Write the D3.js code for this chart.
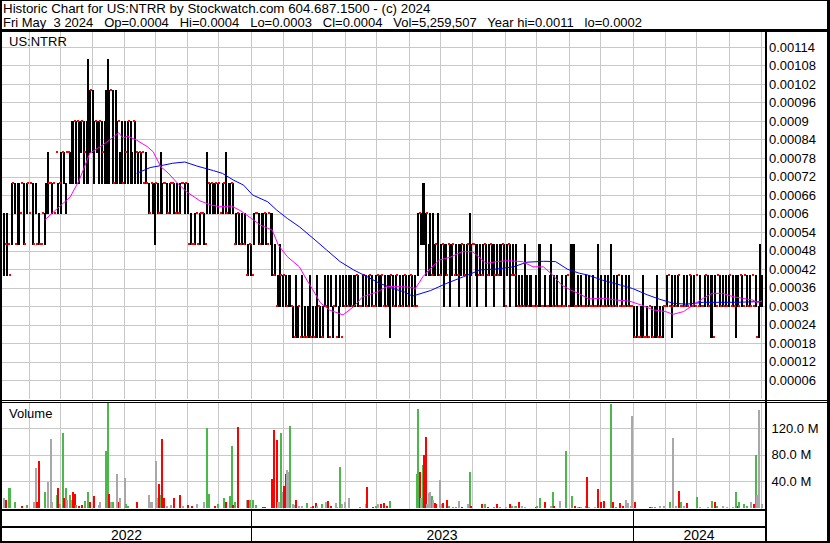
<!DOCTYPE html>
<html><head><meta charset="utf-8">
<script src="https://cdn.jsdelivr.net/npm/d3@7"></script>
<style>
html,body{margin:0;padding:0;background:#fff;}
svg{display:block;font-family:"Liberation Sans",Arial,sans-serif;}
text{white-space:pre;}
</style></head><body><svg id="c" width="830" height="543"></svg>
<script>
const title1 = "Historic Chart for US:NTRR by Stockwatch.com 604.687.1500 - (c) 2024";
const title2 = "Fri May  3 2024   Op=0.0004   Hi=0.0004   Lo=0.0003   Cl=0.0004   Vol=5,259,507   Year hi=0.0011   lo=0.0002";
const symbol = "US:NTRR";
const priceTicks = [0.00006,0.00012,0.00018,0.00024,0.0003,0.00036,0.00042,0.00048,0.00054,0.0006,0.00066,0.00072,0.00078,0.00084,0.0009,0.00096,0.00102,0.00108,0.00114];
const volTicks = [40,80,120];
const volTickLabels = ["40.0 M","80.0 M","120.0 M"];
const yearLabels = ["2022","2023","2024"];

// daily high / low in units of 0.0001 (one entry per trading day); high == low -> single-price day
const high = [
6,5,6,5,4,7,7,7,5,7, 7,6,7,7,5,7,7,6,7,7, 5,7,5,6,5,5,6,6,7,8, 7,7,7,7,6,8,7,7,8,8,
8,7,8,8,8,9,9,9,9,9, 9,9,9,9,8,9,11,10,10,10, 9,9,9,9,9,9,8,9,10,11, 10,10,10,7,10,9,9,8,9,7,
9,8,9,9,9,8,9,9,8,8, 8,8,8,7,8,7,7,6,7,7, 7,7,7,6,8,7,7,7,7,6, 7,7,7,7,6,7,6,7,7,7,
7,7,7,5,6,5,5,6,6,5, 6,6,6,6,5,8,7,7,7,7, 7,7,7,7,6,7,7,8,6,7, 7,7,7,5,6,6,6,5,6,5,
6,4,5,5,5,4,6,6,6,6, 5,6,6,6,6,5,6,6,6,4, 5,3,4,5,4,4,4,4,3,4, 4,3,3,2,4,3,3,2,4,2,
3,2,3,4,2,3,2,3,4,3, 3,2,3,4,3,4,2,4,3,3, 4,2,3,4,2,4,3,4,3,4, 4,3,4,4,4,4,3,3,4,4,
4,3,4,4,4,3,3,4,4,4, 4,4,3,4,3,4,4,4,4,3, 4,4,3,4,3,4,4,4,3,4, 4,4,3,4,3,6,6,6,7,7,
6,6,5,6,4,6,5,5,6,4, 5,5,5,5,4,5,5,5,5,4, 5,4,5,5,5,5,4,5,5,6, 5,5,5,5,5,4,5,4,5,5,
5,4,5,5,5,5,4,5,4,5, 5,5,5,3,5,5,5,4,5,4, 5,3,4,3,4,3,5,4,3,4, 4,3,3,4,3,5,5,3,3,4,
3,3,4,5,3,4,3,4,3,3, 4,3,3,4,4,3,5,5,5,3, 3,4,3,4,3,3,4,3,4,3, 3,4,3,3,5,3,4,3,3,4,
3,4,3,5,3,4,3,4,4,3, 4,3,3,4,3,4,3,3,3,2, 3,2,2,3,4,2,2,3,2,3, 3,2,3,4,2,3,2,3,3,3,
4,4,3,4,3,4,3,4,4,3, 3,4,3,4,3,4,4,3,4,3, 4,3,4,3,3,4,4,4,3,4, 4,2,4,3,4,4,3,4,3,4,
3,4,4,3,4,3,4,4,3,4, 4,3,4,4,3,4,3,4,3,4, 2,3,5,4];
const low = [
4,5,4,5,4,5,7,6,5,5, 5,6,7,5,5,6,7,6,7,5, 5,6,5,5,5,5,6,5,6,6, 7,7,6,7,6,8,6,7,6,8,
7,6,8,8,7,7,7,9,7,9, 7,8,9,7,8,7,7,8,10,8, 7,9,8,7,9,7,8,7,7,7, 7,10,7,7,7,7,9,7,7,7,
7,8,7,9,7,7,9,7,8,7, 8,7,8,7,7,7,6,6,7,6, 5,7,6,6,6,6,7,7,6,6, 6,7,7,6,6,6,6,6,7,7,
6,7,6,5,5,5,5,5,6,5, 5,6,6,5,5,6,7,6,7,6, 6,7,6,7,6,6,7,6,6,6, 6,7,6,5,5,6,5,5,5,5,
5,4,4,5,4,4,5,6,6,5, 5,5,5,6,5,5,6,5,4,4, 4,3,3,3,4,3,4,3,3,3, 3,3,2,2,2,2,3,2,2,2,
2,2,2,2,2,2,2,2,2,3, 2,2,2,3,3,2,2,3,2,3, 3,2,2,3,2,3,3,3,3,3, 3,3,3,3,4,3,3,3,3,4,
3,3,3,4,3,3,3,3,4,3, 3,4,3,3,3,3,2,4,3,3, 3,4,3,3,3,3,4,3,3,3, 4,3,3,3,3,4,6,5,5,5,
4,6,4,4,4,4,4,5,4,4, 4,5,3,4,4,5,3,4,5,4, 4,4,3,4,5,4,4,3,5,3, 4,5,5,4,3,4,4,4,4,5,
3,4,4,5,4,3,4,4,4,4, 4,5,3,3,4,5,3,4,4,4, 3,3,3,3,3,3,3,3,3,3, 3,3,3,3,3,3,3,3,3,3,
3,3,3,3,3,3,3,3,3,3, 3,3,3,3,4,3,3,3,3,3, 3,3,3,3,3,3,3,3,3,3, 3,3,3,3,3,3,3,3,3,3,
3,3,3,3,3,3,3,3,4,3, 3,3,3,3,3,3,3,3,2,2, 2,2,2,2,2,2,2,2,2,3, 2,2,2,2,2,2,2,2,3,3,
3,4,3,2,3,3,3,3,4,3, 3,3,3,3,3,4,3,3,3,3, 4,3,3,3,3,3,4,3,3,2, 2,2,3,3,4,3,3,3,3,3,
3,3,4,3,3,3,2,3,3,4, 3,3,4,3,3,3,3,4,3,3, 2,2,3,3];

// visible volume bars: trading-day index, millions of shares, colour code (g up, r down, n unchanged)
const volIdx = [0,1,3,4,7,12,15,20,21,22,23,27,29,31,32,35,36,37,39,40,41,42,44,45,46,47,48,50,52,54,56,57,60,63,64,68,69,70,71,72,75,76,77,80,81,82,88,96,97,98,101,102,103,104,105,106,108,111,113,117,119,122,125,128,133,135,136,140,142,146,147,150,151,152,153,155,161,162,163,165,167,172,173,178,179,181,182,183,184,185,186,187,188,189,190,192,193,194,196,198,201,204,205,207,208,211,214,215,217,220,221,223,224,226,229,236,240,241,245,247,248,250,252,254,256,274,275,276,277,278,279,280,281,282,283,284,285,286,287,289,290,291,294,295,298,300,302,304,308,309,310,317,319,321,325,327,329,333,336,337,339,340,342,344,346,353,354,356,359,363,364,365,369,373,377,379,381,382,383,386,387,388,392,394,396,398,403,404,406,409,411,413,414,416,417,419,429,430,432,435,438,442,444,446,448,449,451,453,460,462,467,470,472,473,477,480,484,486,487,488,491,493,496,498,499,500,501,503];
const volM = [14,11,29,29,8,2,4,8,59,8,70,23,38,104,9,19,29,6,113,14,30,12,19,12,24,20,4,2,4,10,23,8,17,4,8,85,160,20,8,8,51,8,14,44,6,3,8,19,8,9,70,15,35,19,103,14,2,4,15,19,2,4,2,5,8,120,20,2,6,15,8,17,93,4,8,121,11,11,11,11,4,1.5,1.5,43,117,102,8,8,112,24,32,51,57,54,123,5,4,11,2,2,7,1.5,2,7,2,5,8,10,2,7,1.5,61,5,8,15,1.5,5,31,1.5,2,5,5,7,2,10,51,149,53,15,64,80,107,6,22,24,17,11,7,6,41,6,7,11,2,1.5,1.5,10,1.5,6,53,2,6,6,1.5,1.5,6,1.5,1.5,6,2,2,2,8,2,1.5,1.5,2,14,8,2,23,2,10,85,17,2,1.5,1.5,1.5,2,46,1.5,1.5,28,8,10,156,8,1.5,7,2,11,7,2,138,8,1.5,1.5,1.5,2,2,8,105,2,25,8,2,7,16,1.5,1.5,10,8,2,2,1.5,1.5,24,2,8,5,2,8,5,79,19,147,5.3];
const volDir = ["n","r","g","g","g","r","g","n","n","r","r","g","n","n","n","g","r","n","g","r","g","n","g","n","r","r","g","r","r","g","g","r","r","n","n","g","g","r","n","g","n","r","n","n","g","g","r","n","n","n","n","n","r","g","r","r","n","n","r","r","n","r","r","n","n","g","g","r","g","g","r","g","g","r","g","r","n","r","g","g","g","r","r","r","r","r","n","n","g","n","r","r","n","n","g","n","n","r","n","n","g","g","r","r","n","g","n","r","r","n","n","g","n","n","n","g","n","r","r","g","n","r","r","r","g","g","g","r","n","g","r","r","n","n","n","g","n","r","r","n","n","r","r","g","g","g","n","r","n","g","r","r","g","r","g","r","g","n","r","g","n","g","r","n","n","r","g","g","r","n","g","r","n","g","g","r","n","r","n","g","r","n","n","r","r","r","g","r","g","r","r","n","n","n","n","r","r","g","g","n","n","g","n","n","r","g","n","r","g","n","n","g","r","g","n","n","n","g","r","g","g","g","n","r","g","n","n","n"];

// moving averages: trading-day index and value (0.0001 units)
const maShortIdx = [27,44,50,57,64,70,76,79,82,88,95,99,104,109,115,121,130,137,143,151,157,163,170,178,182,188,196,201,205,210,216,225,232,238,248,254,263,269,273,278,283,289,296,304,311,316,320,327,334,344,351,358,364,370,376,382,388,398,407,415,423,431,439,444,451,459,464,470,477,484,490,497,500,503];
const maShortVal = [5.79,6.54,7.09,7.96,8.17,8.38,8.62,8.45,8.51,8.38,8.17,8.0,7.52,7.31,6.99,6.71,6.41,6.28,6.22,6.24,6.09,5.88,5.63,5.46,4.98,4.6,4.27,3.84,3.52,3.1,2.87,2.71,2.98,3.3,3.46,3.63,3.63,3.61,3.57,3.95,4.22,4.49,4.58,4.76,4.76,4.55,4.38,4.44,4.47,4.44,4.27,4.27,4.01,3.68,3.52,3.39,3.23,3.25,3.19,3.16,3.03,2.87,2.82,2.73,2.82,3.09,3.25,3.41,3.41,3.3,3.25,3.19,3.11,3.17];
const maLongIdx = [88,97,106,112,120,128,139,145,152,159,165,175,181,188,196,205,214,223,232,241,249,258,266,271,283,294,305,316,327,338,347,358,366,374,382,387,397,409,417,427,435,444,453,464,475,486,500,503];
const maLongVal = [7.3,7.49,7.57,7.63,7.67,7.54,7.39,7.3,7.09,6.92,6.6,6.38,6.11,5.84,5.57,5.2,4.82,4.44,4.17,3.95,3.74,3.57,3.45,3.32,3.5,3.74,3.95,4.17,4.2,4.27,4.42,4.45,4.44,4.19,4.06,4.01,3.84,3.68,3.57,3.36,3.22,3.09,3.06,3.12,3.12,3.12,3.14,3.14];

const svg = d3.select("#c");
const U = 1e-4;
const N = high.length;
const PR = 765, PT = 32, PB = 399, VT = 403, VB = 509;
const grid = "#c8c8c8";

const x = d3.scaleLinear().domain([0, N - 1]).range([4, 762]);
const tx = d3.scaleTime()
  .domain([new Date(2022,5,1), new Date(2023,0,1), new Date(2024,0,1), new Date(2024,4,1)])
  .range([28.5, 250.5, 632.5, 760.5]);
const y = d3.scaleLinear().domain([0, 0.00114]).range([398.5, 47]);
const yv = d3.scaleLinear().domain([0, 160]).range([507.5, 401.5]);

svg.append("rect").attr("width", 830).attr("height", 543).attr("fill", "#fff");

const g = svg.append("g").attr("shape-rendering", "crispEdges");
// grid lines
const months = d3.timeMonth.range(new Date(2022,5,1), new Date(2024,4,2));
months.forEach(m => {
  const xx = Math.round(tx(m)) + 0.5;
  g.append("line").attr("x1", xx).attr("x2", xx).attr("y1", PT).attr("y2", PB).attr("stroke", grid);
  g.append("line").attr("x1", xx).attr("x2", xx).attr("y1", VT).attr("y2", VB).attr("stroke", grid);
});
priceTicks.forEach(t => {
  const yy = Math.round(y(t)) + 0.5;
  g.append("line").attr("x1", 2).attr("x2", PR).attr("y1", yy).attr("y2", yy).attr("stroke", grid);
});
volTicks.forEach(t => {
  const yy = Math.round(yv(t)) + 0.5;
  g.append("line").attr("x1", 2).attr("x2", PR).attr("y1", yy).attr("y2", yy).attr("stroke", grid);
});

// price bars (high-low range days in black)
const bars = d3.range(N).map(i => ({i, h: high[i], l: low[i]}));
g.selectAll("rect.bar").data(bars.filter(d => d.h > d.l)).join("rect").attr("class", "bar")
  .attr("x", d => Math.round(x(d.i)) - 1).attr("width", 2)
  .attr("y", d => Math.round(y(d.h * U)))
  .attr("height", d => Math.round(y(d.l * U)) - Math.round(y(d.h * U)) + 1)
  .attr("fill", "#000");

// moving averages
const line = d3.line().x(d => x(d[0])).y(d => y(d[1] * U));
svg.append("path").datum(maLongIdx.map((v, k) => [v, maLongVal[k]])).attr("d", line)
  .attr("fill", "none").attr("stroke", "#0000ff").attr("stroke-width", 1);
svg.append("path").datum(maShortIdx.map((v, k) => [v, maShortVal[k]])).attr("d", line)
  .attr("fill", "none").attr("stroke", "#ff00ff").attr("stroke-width", 1);

// single-price days as red marks
g.selectAll("rect.flat").data(bars.filter(d => d.h === d.l)).join("rect").attr("class", "flat")
  .attr("x", d => Math.round(x(d.i)) - 1).attr("width", 2)
  .attr("y", d => Math.round(y(d.h * U)) - 1).attr("height", 2)
  .attr("fill", "#ff0000");

// volume
const vcol = {g: "#4cb84c", r: "#ff0000", n: "#a8a8a8"};
const vols = volIdx.map((i, k) => ({i, v: volM[k], d: volDir[k]}));
g.selectAll("rect.vol").data(vols).join("rect").attr("class", "vol")
  .attr("x", d => Math.round(x(d.i)) - 1).attr("width", 2)
  .attr("y", d => Math.round(yv(d.v)))
  .attr("height", d => Math.max(1, 508 - Math.round(yv(d.v))))
  .attr("fill", d => vcol[d.d]);

// frame lines
const R = (x0, y0, w, h) => g.append("rect").attr("x", x0).attr("y", y0).attr("width", w).attr("height", h).attr("fill", "#000");
R(0, 0, 830, 1);
R(0, 0, 2, 543);
R(827, 0, 3, 543);
R(0, 541, 830, 2);
R(0, 29, 830, 3);
R(0, 400, 830, 1);
R(0, 402, 830, 1);
R(765, 32, 2, 510);
R(0, 509, 766, 2);
R(0, 526, 766, 2);
const yb = [2, Math.round(tx(new Date(2023,0,1))), Math.round(tx(new Date(2024,0,1))), PR];
R(yb[1], 510, 1, 31);
R(yb[2], 510, 1, 31);

// texts
const T = (s, x0, y0, size, anchor) => svg.append("text").attr("x", x0).attr("y", y0)
  .attr("font-size", size).attr("text-anchor", anchor || "start").attr("fill", "#000").text(s);
T(title1, 3, 12.5, 13.33);
T(title2, 3, 27, 13);
T(symbol, 9, 46, 13);
T("Volume", 9, 417.5, 13);
priceTicks.forEach(t => T(String(+t.toFixed(5)), 769, y(t) + 4.5, 13));
volTicks.forEach((t, i) => T(volTickLabels[i], 771.5, yv(t) + 4.5, 13));
yearLabels.forEach((s, i) => T(s, (yb[i] + yb[i + 1]) / 2, 539.5, 14, "middle"));
</script></body></html>
